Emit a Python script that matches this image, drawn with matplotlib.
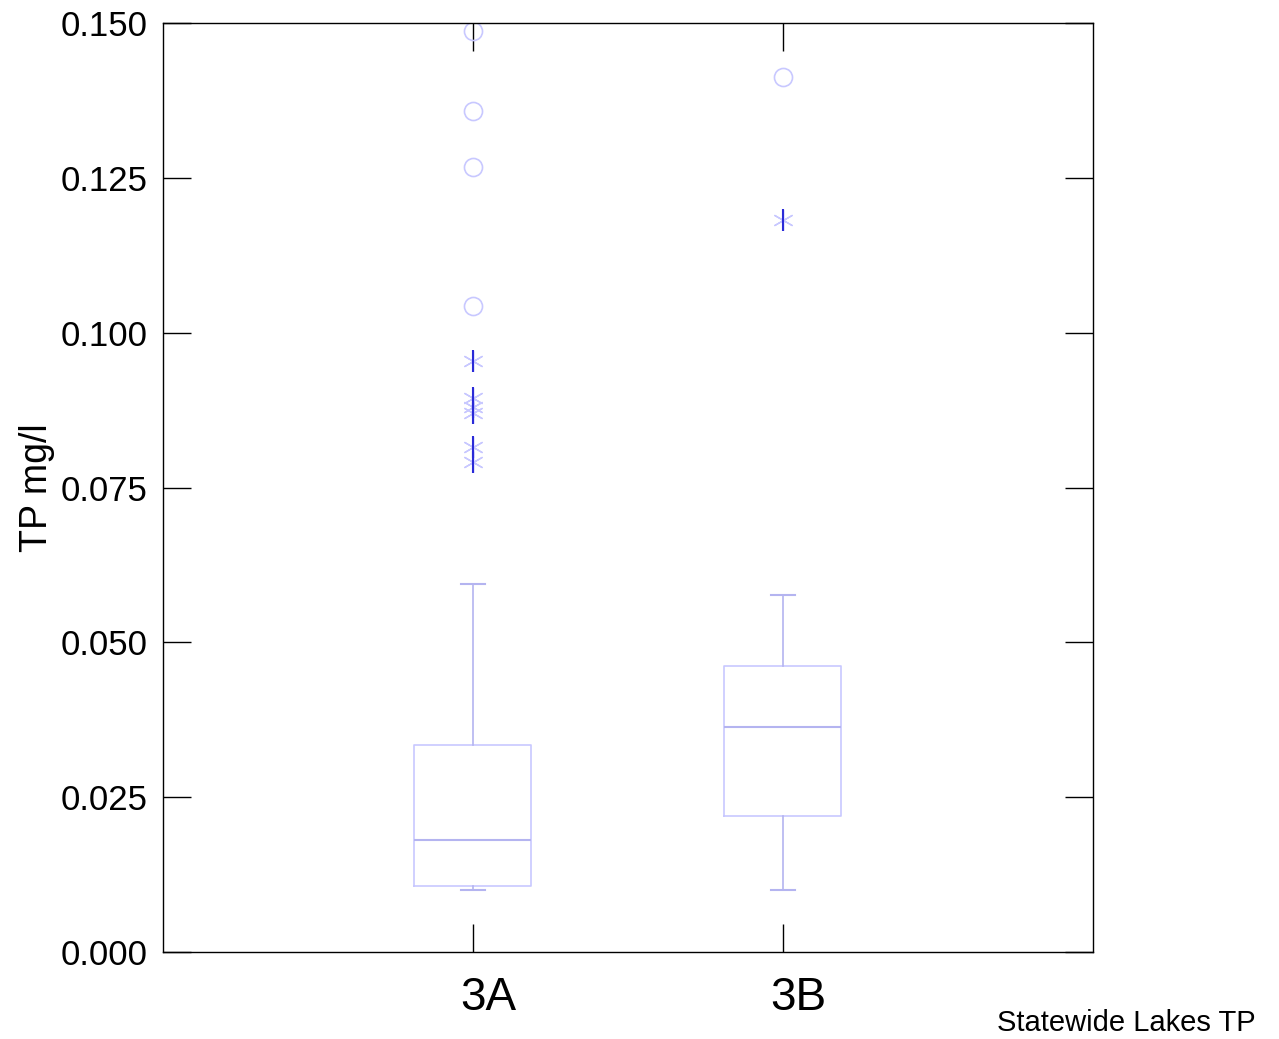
import matplotlib
matplotlib.use('Agg')
from matplotlib import pyplot as plt
from matplotlib import transforms

plt.rcParams['font.family'] = ['Liberation Sans', 'DejaVu Sans']

# data
groups = ['3A', '3B']
q1 = [0.0107, 0.0220]
med = [0.0181, 0.0363]
q3 = [0.0334, 0.0462]
whislo = [0.0100, 0.0100]
whishi = [0.0594, 0.0576]
# near outliers (asterisks) and far outliers (circles)
near_3A = [0.0954, 0.0895, 0.0880, 0.0870, 0.0816, 0.0792]
far_3A = [0.1487, 0.1358, 0.1268, 0.1043]
near_3B = [0.1182]
far_3B = [0.1413]
yticks = [0.000, 0.025, 0.050, 0.075, 0.100, 0.125, 0.150]

box_col = '#c8c8ff'
whisk_col = '#b4b4f0'
star_col = '#c8c8ff'
bar_col = '#2a2ad8'

fig = plt.figure(figsize=(12.79, 10.39), dpi=100)
ax = fig.add_axes([0.1274, 0.0837, 0.7271, 0.8941])

stats = []
for i in range(len(groups)):
    stats.append({'label': groups[i], 'q1': q1[i], 'med': med[i], 'q3': q3[i],
                  'whislo': whislo[i], 'whishi': whishi[i], 'fliers': []})

pos = [1, 2]
ax.bxp(stats, positions=pos, widths=0.377, capwidths=0.077, showfliers=False,
       boxprops=dict(color=box_col, linewidth=1.2),
       medianprops=dict(color=whisk_col, linewidth=1.5),
       whiskerprops=dict(color=whisk_col, linewidth=1.2),
       capprops=dict(color=whisk_col, linewidth=1.5))

near = [near_3A, near_3B]
far = [far_3A, far_3B]
for i in range(len(groups)):
    xs = [pos[i]] * len(near[i])
    # asterisk: light diagonal arms plus a darker vertical stroke
    ax.plot(xs, near[i], linestyle='none', marker=(6, 2, 0), markersize=15,
            markeredgecolor=star_col, markeredgewidth=1.0)
    ax.plot(xs, near[i], linestyle='none', marker='|', markersize=16,
            markeredgecolor=bar_col, markeredgewidth=1.5)
    xf = [pos[i]] * len(far[i])
    ax.plot(xf, far[i], linestyle='none', marker='o', markersize=13,
            markerfacecolor='none', markeredgecolor=box_col, markeredgewidth=1.2)

ax.set_xlim(0, 3)
ax.set_ylim(0, 0.150)
ax.set_yticks(yticks)
ax.set_yticklabels(['%.3f' % v for v in yticks], fontsize=25)
ax.set_xticks(pos)
ax.set_xticklabels(groups, fontsize=33)
ax.tick_params(axis='both', direction='in', length=20, width=1.0,
               top=True, right=True, color='black')
ax.tick_params(axis='x', pad=17)
ax.tick_params(axis='y', pad=11)
# x labels sit a little right of their ticks in the reference
shift = transforms.ScaledTranslation(11 / 72, 0, fig.dpi_scale_trans)
for lab in ax.get_xticklabels():
    lab.set_transform(lab.get_transform() + shift)
ax.set_ylabel('TP mg/l', fontsize=27, labelpad=4)
for s in ax.spines.values():
    s.set_linewidth(1.0)

fig.text(0.982, 0.002, 'Statewide Lakes TP', fontsize=21, ha='right', va='bottom')

fig.savefig('out.png', dpi=100)
